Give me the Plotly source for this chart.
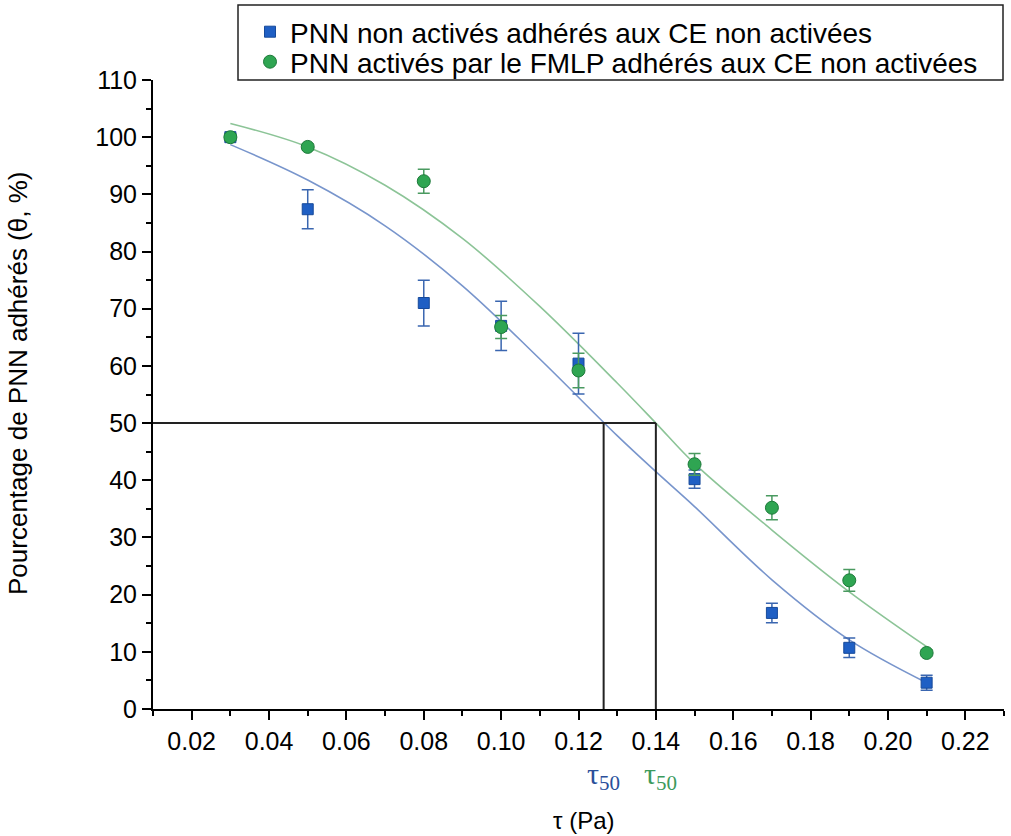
import plotly.graph_objects as go

# ---- data ----
tau = [0.03, 0.05, 0.08, 0.10, 0.12, 0.15, 0.17, 0.19, 0.21]

blue_name = "PNN non activés adhérés aux CE non activées"
blue_y = [100.0, 87.4, 71.0, 67.0, 60.4, 40.2, 16.8, 10.7, 4.6]
blue_err = [0.6, 3.4, 4.0, 4.3, 5.3, 1.6, 1.7, 1.7, 1.3]

green_name = "PNN activés par le FMLP adhérés aux CE non activées"
green_y = [100.0, 98.3, 92.3, 66.8, 59.2, 42.8, 35.2, 22.5, 9.8]
green_err = [0.5, 0.5, 2.1, 2.0, 3.0, 1.9, 2.1, 1.9, 0.5]

# fitted curves
fit_x = [0.03, 0.05, 0.07, 0.09, 0.11, 0.13, 0.14, 0.15, 0.17, 0.19, 0.21]
blue_fit = [98.7, 92.5, 84.5, 74.0, 61.2, 47.8, 41.5, 35.4, 22.6, 12.1, 4.6]
green_fit = [102.4, 98.3, 91.6, 82.3, 70.4, 57.0, 50.0, 42.9, 31.3, 20.5, 10.9]

# tau50 construction lines
tau50_blue = 0.1265
tau50_green = 0.14
level50 = 50
x_min, x_max = 0.01, 0.23
y_min, y_max = 0, 110

BLUE = "#1f5fc4"
GREEN = "#2fa552"
FONT = "Liberation Sans, Arial, sans-serif"

# layout geometry (pixels)
W, H = 1011, 836
ML, MR, MT, MB = 153, 7, 80, 127
PW, PH = W - ML - MR, H - MT - MB


def px_x(px):
    return (px - ML) / PW


def px_y(py):
    return (H - MB - py) / PH


fig = go.Figure()

# fitted curves
fig.add_trace(go.Scatter(x=fit_x, y=blue_fit, mode="lines", line=dict(color="#7895cc", width=1.6, shape="spline"),
                         showlegend=False, hoverinfo="skip"))
fig.add_trace(go.Scatter(x=fit_x, y=green_fit, mode="lines", line=dict(color="#8cc497", width=1.6, shape="spline"),
                         showlegend=False, hoverinfo="skip"))

# tau50 lines
fig.add_trace(go.Scatter(x=[x_min, tau50_green], y=[level50, level50], mode="lines",
                         line=dict(color="#222222", width=2), showlegend=False, hoverinfo="skip"))
fig.add_trace(go.Scatter(x=[tau50_blue, tau50_blue], y=[y_min, level50], mode="lines",
                         line=dict(color="#222222", width=2), showlegend=False, hoverinfo="skip"))
fig.add_trace(go.Scatter(x=[tau50_green, tau50_green], y=[y_min, level50], mode="lines",
                         line=dict(color="#222222", width=2), showlegend=False, hoverinfo="skip"))

# data points
fig.add_trace(go.Scatter(x=tau, y=blue_y, mode="markers", name=blue_name, legend="legend",
                         marker=dict(symbol="square", size=11, color=BLUE, line=dict(color="#174a9a", width=1)),
                         error_y=dict(type="data", array=blue_err, color="#3a66b0", thickness=1.5, width=6)))
fig.add_trace(go.Scatter(x=tau, y=green_y, mode="markers", name=green_name, legend="legend2",
                         marker=dict(symbol="circle", size=13, color=GREEN, line=dict(color="#1e7a3a", width=1)),
                         error_y=dict(type="data", array=green_err, color="#4a9a60", thickness=1.5, width=6)))

leg_common = dict(x=px_x(250), xanchor="left", yanchor="middle",
                  borderwidth=0, bgcolor="rgba(0,0,0,0)",
                  font=dict(size=28, family=FONT), itemwidth=30)

fig.update_layout(
    width=W, height=H,
    margin=dict(l=ML, r=MR, t=MT, b=MB, autoexpand=False),
    paper_bgcolor="white", plot_bgcolor="white",
    font=dict(family=FONT, size=24, color="black"),
    showlegend=True,
    legend=dict(y=px_y(32), **leg_common),
    legend2=dict(y=px_y(62), **leg_common),
    shapes=[
        dict(type="rect", xref="paper", yref="paper",
             x0=px_x(238), x1=px_x(1003), y0=px_y(80), y1=px_y(5),
             line=dict(color="#222222", width=1.5), fillcolor="rgba(0,0,0,0)", layer="below"),
    ],
    xaxis=dict(range=[x_min, x_max], showline=True, linecolor="black", linewidth=2,
               ticks="outside", ticklen=9, tickwidth=2, tickcolor="black",
               tick0=0.02, dtick=0.02, tickformat=".2f", showgrid=False, zeroline=False,
               tickfont=dict(size=25),
               minor=dict(dtick=0.01, tick0=0.01, ticks="outside", ticklen=5, tickwidth=2, tickcolor="black")),
    yaxis=dict(range=[y_min, y_max], showline=True, linecolor="black", linewidth=2,
               ticks="outside", ticklen=9, tickwidth=2, tickcolor="black",
               tick0=0, dtick=10, showgrid=False, zeroline=False,
               tickfont=dict(size=25),
               minor=dict(dtick=5, ticks="outside", ticklen=5, tickwidth=2, tickcolor="black")),
    annotations=[
        dict(text="τ (Pa)", xref="paper", yref="paper", x=px_x(584), y=px_y(820), showarrow=False,
             font=dict(size=24, family=FONT), xanchor="center", yanchor="middle"),
        dict(text="Pourcentage de PNN adhérés (θ, %)", xref="paper", yref="paper", x=px_x(18), y=px_y(384),
             textangle=-90, showarrow=False, font=dict(size=26, family=FONT),
             xanchor="center", yanchor="middle"),
        dict(text="τ<sub>50</sub>", xref="x", yref="paper", x=tau50_blue, y=px_y(776), showarrow=False,
             font=dict(size=30, family="Liberation Serif, serif", color="#2a4f9a"),
             xanchor="center", yanchor="middle"),
        dict(text="τ<sub>50</sub>", xref="x", yref="paper", x=tau50_green + 0.0012, y=px_y(776), showarrow=False,
             font=dict(size=30, family="Liberation Serif, serif", color="#3c9a5c"),
             xanchor="center", yanchor="middle"),
    ],
)

fig.write_html("out.html", config={"displayModeBar": False},
               post_script="document.body.style.margin='0px';")
